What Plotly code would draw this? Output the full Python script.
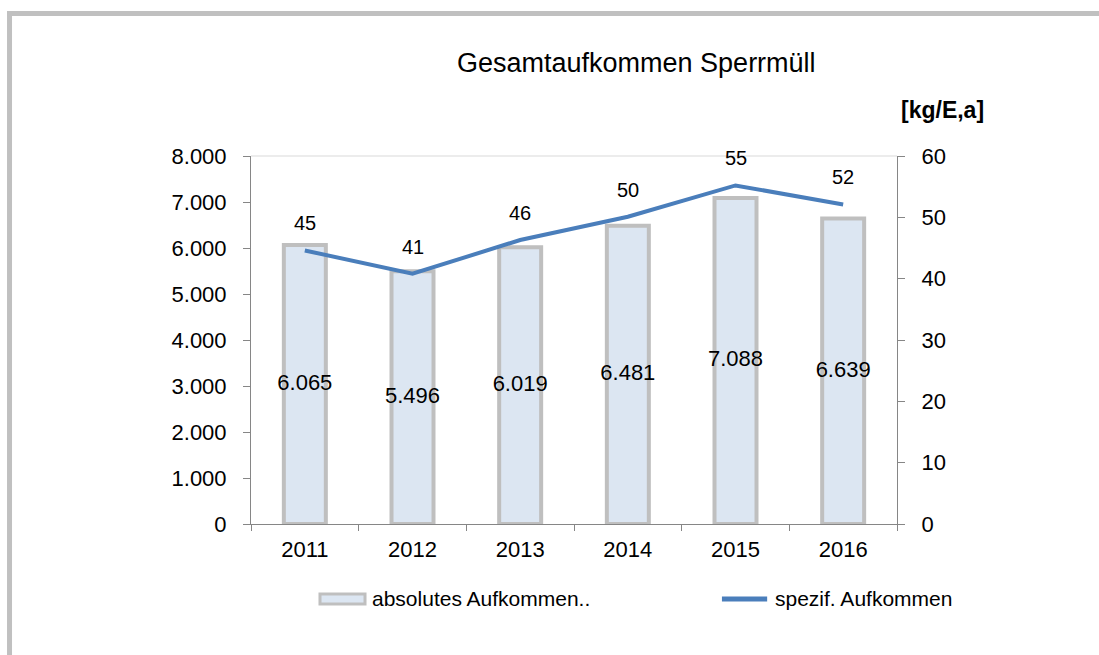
import plotly.graph_objects as go

# ---- data ----
jahre = ["2011", "2012", "2013", "2014", "2015", "2016"]
absolut = [6065, 5496, 6019, 6481, 7088, 6639]          # t (left axis)
spezif = [44.6, 40.8, 46.3, 50.1, 55.2, 52.1]            # kg/E,a (right axis)
links_ticks = [0, 1000, 2000, 3000, 4000, 5000, 6000, 7000, 8000]
rechts_ticks = [0, 10, 20, 30, 40, 50, 60]

titel = "Gesamtaufkommen Sperrmüll"
einheit = "[kg/E,a]"
legende_bar = "absolutes Aufkommen.."
legende_linie = "spezif. Aufkommen"

FONT = "Liberation Sans, Arial, sans-serif"
BAR_FILL = "#dce6f2"
BAR_LINE = "#bfbfbf"
LINE_COL = "#4a7ebb"
AXIS_COL = "#868686"
FRAME_COL = "#c0c0c0"


def de(v):
    return f"{v:,.0f}".replace(",", ".")


fig = go.Figure()

fig.add_trace(go.Bar(
    x=jahre, y=absolut, width=0.39, yaxis="y",
    marker=dict(color=BAR_FILL, line=dict(color=BAR_LINE, width=4)),
    name=legende_bar, showlegend=False, hoverinfo="skip",
))

fig.add_trace(go.Scatter(
    x=jahre, y=[v / 2 for v in absolut], yaxis="y", mode="text",
    text=[de(v) for v in absolut],
    textfont=dict(family=FONT, size=22, color="black"),
    showlegend=False, hoverinfo="skip",
))

fig.add_trace(go.Scatter(
    x=jahre, y=spezif, yaxis="y2", mode="lines",
    line=dict(color=LINE_COL, width=4),
    name=legende_linie, showlegend=False, hoverinfo="skip",
))

annotations = []
for i, v in enumerate(spezif):
    annotations.append(dict(
        x=i, y=v, xref="x", yref="y2", text=str(round(v)), showarrow=False,
        yshift=27, font=dict(family=FONT, size=20, color="black"),
    ))

# title and unit
annotations.append(dict(x=0.596, y=1.2527, xref="paper", yref="paper", text=titel,
                        showarrow=False, xanchor="center", yanchor="middle",
                        font=dict(family=FONT, size=27, color="black")))
annotations.append(dict(x=1.0697, y=1.125, xref="paper", yref="paper",
                        text="<b>" + einheit + "</b>",
                        showarrow=False, xanchor="center", yanchor="middle",
                        font=dict(family=FONT, size=23, color="black")))

# manual legend text
annotations.append(dict(x=0.1842, y=-0.2038, xref="paper", yref="paper", text=legende_bar,
                        showarrow=False, xanchor="left", yanchor="middle",
                        font=dict(family=FONT, size=21, color="black")))
annotations.append(dict(x=0.808, y=-0.2038, xref="paper", yref="paper", text=legende_linie,
                        showarrow=False, xanchor="left", yanchor="middle",
                        font=dict(family=FONT, size=21, color="black")))

shapes = [
    # outer frame (top and left)
    dict(type="line", xref="paper", yref="paper", x0=-0.3777, x1=1.32, y0=1.3872, y1=1.3872,
         line=dict(color=FRAME_COL, width=5)),
    dict(type="line", xref="paper", yref="paper", x0=-0.3738, x1=-0.3738, y0=1.394, y1=-0.36,
         line=dict(color=FRAME_COL, width=5)),
    # top border of plot area
    dict(type="line", xref="paper", yref="paper", x0=0, x1=1, y0=1, y1=1,
         line=dict(color="#d9d9d9", width=1)),
    # legend symbols
    dict(type="rect", xref="paper", yref="paper", x0=0.1068, x1=0.1765, y0=-0.2174, y1=-0.1902,
         fillcolor=BAR_FILL, line=dict(color=BAR_LINE, width=3)),
    dict(type="line", xref="paper", yref="paper", x0=0.729, x1=0.799, y0=-0.2038, y1=-0.2038,
         line=dict(color=LINE_COL, width=5)),
]

fig.update_layout(
    width=1099, height=655,
    margin=dict(l=251, r=202, t=156, b=131),
    paper_bgcolor="white", plot_bgcolor="white",
    font=dict(family=FONT, color="black"),
    showlegend=False,
    xaxis=dict(
        type="category", range=[-0.5, 5.5],
        showline=True, linecolor=AXIS_COL, linewidth=1,
        ticks="outside", ticklen=6, tickcolor=AXIS_COL, tickson="boundaries",
        tickfont=dict(family=FONT, size=22, color="black"),
        ticklabelstandoff=6, showgrid=False, zeroline=False,
    ),
    yaxis=dict(
        range=[0, 8000], tickvals=links_ticks, ticktext=[de(v) for v in links_ticks],
        showline=True, linecolor=AXIS_COL, linewidth=1,
        ticks="outside", ticklen=7, tickcolor=AXIS_COL,
        tickfont=dict(family=FONT, size=22, color="black"),
        ticklabelstandoff=12, showgrid=False, zeroline=False,
    ),
    yaxis2=dict(
        overlaying="y", side="right", anchor="x",
        range=[0, 60], tickvals=rechts_ticks, ticktext=[str(v) for v in rechts_ticks],
        showline=True, linecolor=AXIS_COL, linewidth=1,
        ticks="outside", ticklen=7, tickcolor=AXIS_COL,
        tickfont=dict(family=FONT, size=22, color="black"),
        ticklabelstandoff=12, showgrid=False, zeroline=False,
    ),
    annotations=annotations,
    shapes=shapes,
)

fig.write_html("out.html", config={"displayModeBar": False},
               post_script="document.body.style.margin='0';")
